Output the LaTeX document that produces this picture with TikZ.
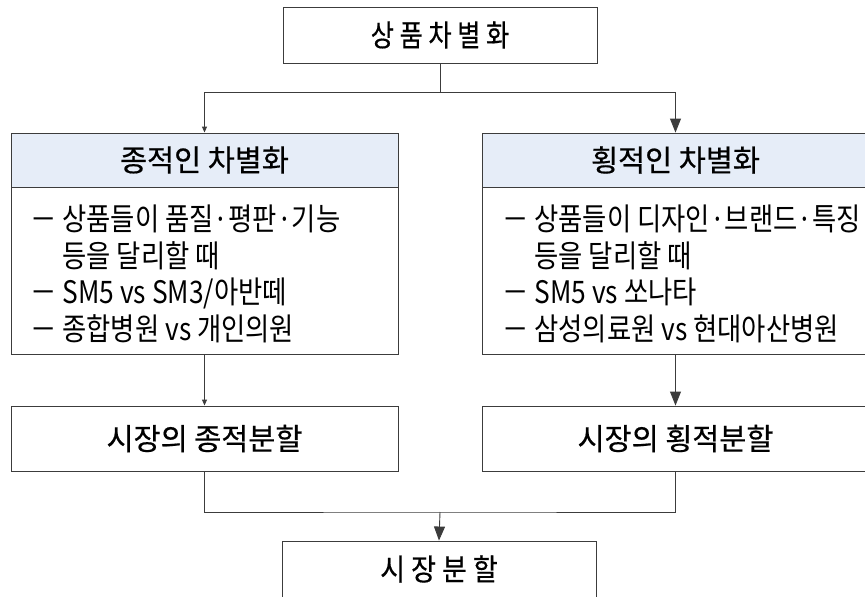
\documentclass[tikz,border=0pt]{standalone}
\usepackage{fontspec}
\usetikzlibrary{arrows.meta}
\newfontfamily\krh[FakeStretch=0.98,FakeBold=0.5]{Noto Sans CJK KR}
\newfontfamily\krt[FakeStretch=0.9,FakeBold=0.5]{Noto Sans CJK KR}
\newfontfamily\krtt[FakeStretch=0.84,FakeBold=0.5]{Noto Sans CJK KR}
\newfontfamily\krb[FakeStretch=0.85]{Noto Sans CJK KR}
\definecolor{hdr}{RGB}{230,237,248}
\definecolor{ln}{RGB}{60,60,60}
\tikzset{
  box/.style={draw=ln, line width=0.9pt, inner sep=0pt, minimum width=387pt},
  titlebox/.style={draw=ln, line width=0.9pt, inner sep=0pt, minimum width=314pt, minimum height=56pt, font=\krt\fontsize{30}{34}\selectfont},
  hdrbox/.style={box, fill=hdr, minimum height=54pt, font=\krh\fontsize{30}{34}\selectfont},
  bodybox/.style={box, minimum height=167pt},
  lowbox/.style={box, minimum height=65pt, font=\krh\fontsize{30}{34}\selectfont},
  bodytext/.style={anchor=west, align=left, inner sep=0pt, font=\krb\fontsize{31}{36.5}\selectfont},
  conn/.style={draw=ln, line width=0.9pt},
  arrS/.style={conn, -{Triangle[width=5pt,length=6pt]}},
  arrL/.style={conn, -{Triangle[width=11pt,length=14pt]}},
}
\begin{document}
\begin{tikzpicture}[x=1pt,y=-1pt]
\useasboundingbox (0,0) rectangle (865,597);
\node[titlebox, font=\krtt\fontsize{30}{34}\selectfont] (top) at (440,35) {상 품 차 별 화};
\node[hdrbox] (lh) at (204.5,160) {종적인 차별화};
\node[bodybox] (lb) at (204.5,270.5) {};
\node[hdrbox] (rh) at (675.5,160) {횡적인 차별화};
\node[bodybox] (rb) at (675.5,270.5) {};
\node[bodytext] (lbt) at (30,274) {－ 상품들이 품질·평판·기능\\ \phantom{－ }등을 달리할 때\\ － SM5 vs SM3/아반떼\\ － 종합병원 vs 개인의원};
\node[bodytext] (rbt) at (502,274) {－ 상품들이 디자인·브랜드·특징\\ \phantom{－ }등을 달리할 때\\ － SM5 vs 쏘나타\\ － 삼성의료원 vs 현대아산병원};
\node[lowbox] (ll) at (204.5,438.5) {시장의 종적분할};
\node[lowbox] (rl) at (675.5,438.5) {시장의 횡적분할};
\node[titlebox] (bot) at (439,569) {시 장 분 할};
\coordinate (j1) at (440,92);
\coordinate (j2) at (440,512);
\draw[conn] (top.south) -- (j1);
\draw[arrS] (j1) -| (lh.north);
\draw[arrL] (j1) -| (rh.north);
\draw[arrS] (lb.south) -- (ll.north);
\draw[arrL] (rb.south) -- (rl.north);
\draw[conn] (ll.south) |- (j2) -| (rl.south);
\draw[arrL] (j2) -- (bot.north);
\end{tikzpicture}
\end{document}
